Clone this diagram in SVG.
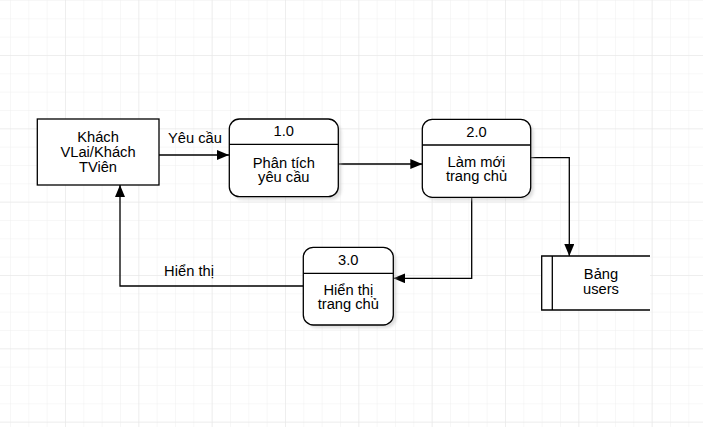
<svg xmlns="http://www.w3.org/2000/svg" width="703" height="427" viewBox="0 0 703 427">
<defs>
<pattern id="minor" x="10" y="0" width="18.333" height="18.333" patternUnits="userSpaceOnUse">
<path d="M0 0V18.333M0 0H18.333" fill="none" stroke="#efefef" stroke-width="1"/>
</pattern>
<pattern id="major" x="65" y="-18.333" width="73.333" height="73.333" patternUnits="userSpaceOnUse">
<path d="M0 0V73.333M0 0H73.333" fill="none" stroke="#e6e6e6" stroke-width="1"/>
</pattern>
<marker id="arr" viewBox="0 0 12 10" refX="12" refY="5" markerWidth="12" markerHeight="10" markerUnits="userSpaceOnUse" orient="auto">
<path d="M0 0L12 5L0 10Z" fill="#000"/>
</marker>
<filter id="sh" x="-10%" y="-10%" width="130%" height="130%">
<feGaussianBlur stdDeviation="1.5"/>
</filter>
</defs>
<style>
.t{font-family:"Liberation Sans",Arial,sans-serif;font-size:14.7px;fill:#000;text-anchor:middle}
.b{fill:#fff;stroke:#000;stroke-width:1.3}
.s{fill:#bbb;opacity:0.5;filter:url(#sh)}
.c{fill:none;stroke:#000;stroke-width:1.3}
</style>
<rect width="703" height="427" fill="#fff"/>
<rect width="703" height="427" fill="url(#minor)"/>
<rect width="703" height="427" fill="url(#major)"/>

<g id="connectors">
<path class="c" d="M159 155H229" marker-end="url(#arr)"/>
<text class="t" x="195" y="142.5">Yêu cầu</text>
<path class="c" d="M338.3 164H422.3" marker-end="url(#arr)"/>
<path class="c" d="M530.7 157.7H569.3V256" marker-end="url(#arr)"/>
<path class="c" d="M471.7 197.3V278.3H393.3" marker-end="url(#arr)"/>
<path class="c" d="M303.3 286H120V185" marker-end="url(#arr)"/>
<text class="t" x="189" y="276">Hiển thị</text>
</g>

<g id="khach">
<rect class="b" x="37.3" y="119" width="121.7" height="66"/>
<text class="t" x="98" y="141.7">Khách</text>
<text class="t" x="98" y="156.7">VLai/Khách</text>
<text class="t" x="98" y="171.7">TViên</text>
</g>

<g id="p1">
<rect class="s" x="232.3" y="122" width="109" height="77.7" rx="10"/>
<rect class="b" x="229.3" y="119" width="109" height="77.7" rx="10"/>
<path class="c" d="M229.3 144.3H338.3"/>
<text class="t" x="283.8" y="136.3">1.0</text>
<text class="t" x="283.8" y="167.7">Phân tích</text>
<text class="t" x="283.8" y="181.7">yêu cầu</text>
</g>

<g id="p2">
<rect class="s" x="425.3" y="122.3" width="108.4" height="78" rx="10"/>
<rect class="b" x="422.3" y="119.3" width="108.4" height="78" rx="10"/>
<path class="c" d="M422.3 145H530.7"/>
<text class="t" x="476.5" y="136.5">2.0</text>
<text class="t" x="476.5" y="166.7">Làm mới</text>
<text class="t" x="476.5" y="180.7">trang chủ</text>
</g>

<g id="p3">
<rect class="s" x="306.3" y="250.3" width="90" height="77.7" rx="10"/>
<rect class="b" x="303.3" y="247.3" width="90" height="77.7" rx="10"/>
<path class="c" d="M303.3 273.3H393.3"/>
<text class="t" x="348.3" y="265">3.0</text>
<text class="t" x="348.3" y="294.7">Hiển thị</text>
<text class="t" x="348.3" y="308.7">trang chủ</text>
</g>

<g id="store">
<rect x="541.7" y="256" width="108.3" height="54" fill="#fff"/>
<path class="c" d="M650 256H541.7V310H650M552.3 256V310"/>
<text class="t" x="601" y="279.3">Bảng</text>
<text class="t" x="601" y="294">users</text>
</g>
</svg>
